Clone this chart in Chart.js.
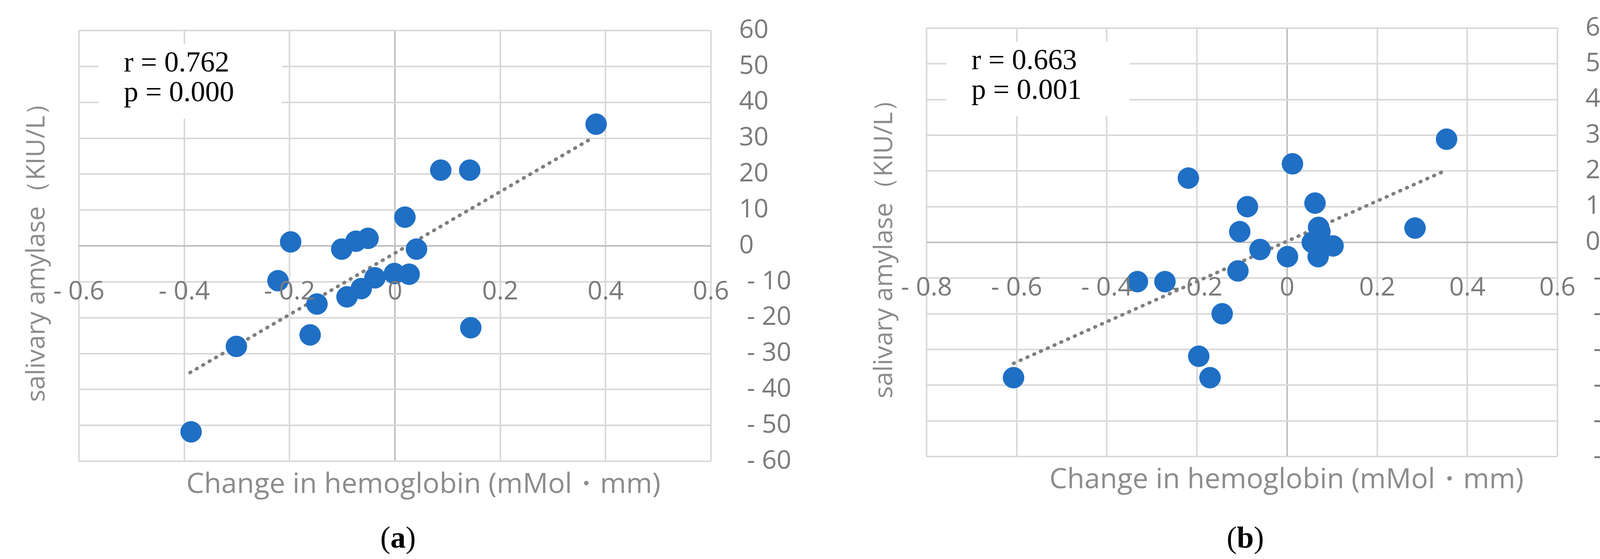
<!DOCTYPE html>
<html>
<head>
<meta charset="utf-8">
<script src="https://cdn.jsdelivr.net/npm/chart.js@4/dist/chart.umd.min.js"></script>
<style>
  html, body { margin: 0; padding: 0; background: #fff; width: 4243px; height: 1430px; overflow: hidden; }
  body { position: relative; }
  .panel { position: absolute; top: 0; width: 2121px; height: 1430px; }
  canvas { display: block; }
  .cap { position: absolute; top: 1330px; width: 200px; text-align: center; font: 78px "Liberation Serif", serif; color: #000; }
</style>
</head>
<body>
<div class="panel" style="left:0"><canvas id="chart-a"></canvas></div>
<div class="panel" style="left:2121px"><canvas id="chart-b"></canvas></div>
<div class="cap" style="left:919px">(<b>a</b>)</div>
<div class="cap" style="left:3088px">(<b>b</b>)</div>
<script>
// Panel (a) data
const xA = [0.382, 0.087, 0.142, 0.019, -0.198, -0.101, -0.074, -0.051, 0.041, -0.222,
            -0.038, -0.001, 0.027, -0.064, -0.091, -0.148, -0.161, 0.144, -0.301, -0.387];
const yA = [33.9, 21.1, 21.1, 8.0, 1.1, -0.9, 1.3, 2.1, -0.9, -9.7,
            -8.9, -7.7, -7.9, -11.9, -14.2, -16.2, -24.8, -22.8, -28.0, -51.8];
const trendXA = [-0.389, 0.373];
const trendYA = [-35.3, 29.9];

// Panel (b) data
const xB = [0.354, 0.012, -0.219, -0.088, 0.062, -0.105, 0.070, 0.284, 0.056, 0.102,
            0.069, 0.001, -0.060, -0.109, -0.332, -0.271, -0.144, -0.196, -0.171, -0.607, 0.073];
const yB = [28.9, 22.0, 18.0, 10.0, 11.0, 3.0, 4.2, 4.0, 0, -1.0,
            -4.0, -4.0, -2.0, -8.0, -11.0, -11.0, -20.0, -31.9, -37.9, -37.9, 3.0];
const trendXB = [-0.607, 0.344];
const trendYB = [-33.9, 19.7];

const yTicks = [60, 50, 40, 30, 20, 10, 0, -10, -20, -30, -40, -50, -60];
const xTicksA = [-0.6, -0.4, -0.2, 0, 0.2, 0.4, 0.6];
const xTicksB = [-0.8, -0.6, -0.4, -0.2, 0, 0.2, 0.4, 0.6];
const xTitle = "Change in hemoglobin (mMol\u30FBmm)";
const yTitle = "salivary amylase\uFF08KIU/L\uFF09";

function fmt(v) {
  if (v === 0) return "0";
  return v < 0 ? "- " + String(-v) : String(v);
}

const textPlugin = {
  id: "texts",
  afterDraw(chart, args, opts) {
    const c = chart.ctx, xs = chart.scales.x, ys = chart.scales.y, a = chart.chartArea;
    c.save();
    c.fillStyle = "#7a7a7a";
    c.font = "66px 'Open Sans', sans-serif";
    c.textBaseline = "middle";
    // y tick labels on right
    c.textAlign = "left";
    yTicks.forEach(v => c.fillText(fmt(v), a.right + (v < 0 ? 92 : 72), ys.getPixelForValue(v)));
    // x tick labels along the -10 row
    c.textAlign = "center";
    opts.xTicks.forEach(v => c.fillText(fmt(v), xs.getPixelForValue(v), ys.getPixelForValue(-10) + 26));
    // axis titles
    c.fillStyle = "#8c8c8c";
    c.font = "72px 'Open Sans', sans-serif";
    c.fillText(xTitle, (a.left + a.right) / 2 + opts.titleShift, a.bottom + 60);
    c.save();
    c.translate(opts.yTitleX, (a.top + a.bottom) / 2);
    c.rotate(-Math.PI / 2);
    c.font = "66px 'Open Sans', sans-serif";
    c.fillText(yTitle, 0, 0);
    c.restore();
    // r / p box
    c.fillStyle = "#fff";
    c.fillRect(a.left + 50, a.top + 35, 470, 190);
    c.fillStyle = "#000";
    c.textAlign = "left";
    c.textBaseline = "alphabetic";
    c.font = "74px 'Liberation Serif', serif";
    c.fillText(opts.r, a.left + 115, a.top + 105);
    c.fillText(opts.p, a.left + 115, a.top + 181);
    c.restore();
  }
};

function makeChart(id, xs, ys, tx, ty, xMin, pad, extra) {
  const pts = xs.map((x, i) => ({ x: x, y: ys[i] }));
  const trend = tx.map((x, i) => ({ x: x, y: ty[i] }));
  const cv = document.getElementById(id);
  cv.width = 2121;
  cv.height = 1430;
  return new Chart(cv, {
    type: "scatter",
    data: {
      datasets: [
        { data: trend, showLine: true, borderColor: "#7f7f7f", borderWidth: 9,
          borderDash: [2, 17], borderCapStyle: "round", pointRadius: 0, order: 2 },
        { data: pts, backgroundColor: "#1f6fc5", borderColor: "#1f6fc5",
          pointRadius: 27, pointHoverRadius: 27, order: 1 }
      ]
    },
    options: {
      responsive: false,
      animation: false,
      devicePixelRatio: 1,
      layout: { padding: pad },
      plugins: { legend: { display: false }, tooltip: { enabled: false }, texts: extra },
      scales: {
        x: {
          type: "linear", min: xMin, max: 0.6,
          ticks: { display: false, stepSize: 0.2 },
          border: { display: false },
          grid: { drawTicks: false, lineWidth: 4,
            color: c => Math.abs(c.tick.value) < 1e-9 ? "#bfbfbf" : "#d9d9d9" }
        },
        y: {
          type: "linear", min: -60, max: 60,
          ticks: { display: false, stepSize: 10 },
          border: { display: false },
          grid: { drawTicks: false, lineWidth: 4,
            color: c => c.tick.value === 0 ? "#bfbfbf" : "#d9d9d9" }
        }
      }
    },
    plugins: [textPlugin]
  });
}

makeChart("chart-a", xA, yA, trendXA, trendYA, -0.6,
  { left: 202, right: 301, top: 78, bottom: 250 },
  { xTicks: xTicksA, r: "r = 0.762", p: "p = 0.000", yTitleX: 95, titleShift: 73 });
makeChart("chart-b", xB, yB, trendXB, trendYB, -0.8,
  { left: 251, right: 255, top: 72, bottom: 262 },
  { xTicks: xTicksB, r: "r = 0.663", p: "p = 0.001", yTitleX: 144, titleShift: 114 });
</script>
</body>
</html>
